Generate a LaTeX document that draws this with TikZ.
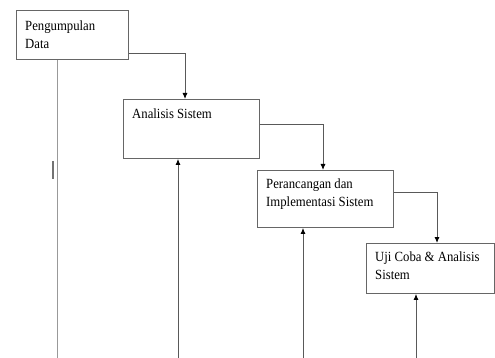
\documentclass[tikz,border=0pt]{standalone}
\usepackage{fontspec}
\setmainfont{Liberation Serif}
\newfontfamily\condserif{Liberation Serif}[FakeStretch=0.91]
\usetikzlibrary{arrows.meta,calc}
\begin{document}
\begin{tikzpicture}[x=1pt,y=-1pt,
  box/.style={draw=black!60,line width=0.9pt,rectangle,inner sep=0pt,anchor=north west},
  lbl/.style={anchor=north west,inner sep=0pt,align=left,font=\condserif\fontsize{14}{17.5}\selectfont},
  conn/.style={draw=black!65,line width=0.9pt,-{Latex[black,length=6pt,width=5pt]}},
  plain/.style={draw=black!40,line width=1pt}]
\useasboundingbox (0,0) rectangle (495,358);
% boxes
\node[box,minimum width=112pt,minimum height=49pt] (b1) at (16,10) {};
\node[box,minimum width=136pt,minimum height=59pt] (b2) at (123,99) {};
\node[box,minimum width=136pt,minimum height=57pt] (b3) at (257,170) {};
\node[box,minimum width=128pt,minimum height=50pt] (b4) at (366,243) {};
% labels
\node[lbl] (t1) at ($(b1.north west)+(9,11)$) {Pengumpulan\\Data};
\node[lbl] (t2) at ($(b2.north west)+(9,9.5)$) {Analisis Sistem};
\node[lbl] (t3) at ($(b3.north west)+(9,9)$) {Perancangan dan\\Implementasi Sistem};
\node[lbl] (t4) at ($(b4.north west)+(9,9)$) {Uji Coba \& Analisis\\Sistem};
% forward connectors
\draw[conn] ($(b1.north east)+(0,43)$) -| ($(b2.north west)+(62,0)$);
\draw[conn] ($(b2.north east)+(0,25)$) -| ($(b3.north west)+(66,0)$);
\draw[conn] ($(b3.north east)+(0,22)$) -| ($(b4.north west)+(71,0)$);
% bottom lines
\coordinate (l1) at (57,358);
\coordinate (u2) at (178,358);
\coordinate (u3) at (303,358);
\coordinate (u4) at (416,358);
\draw[plain] (b1.south -| l1) -- (l1);
\draw[conn] (u2) -- (u2 |- b2.south);
\draw[conn] (u3) -- (u3 |- b3.south);
\draw[conn] (u4) -- (u4 |- b4.south);
% cursor mark
\coordinate (c1) at (53,161);
\coordinate (c2) at (53,179);
\draw[draw=black!55,line width=1.8pt] (c1) -- (c2);
\end{tikzpicture}
\end{document}
